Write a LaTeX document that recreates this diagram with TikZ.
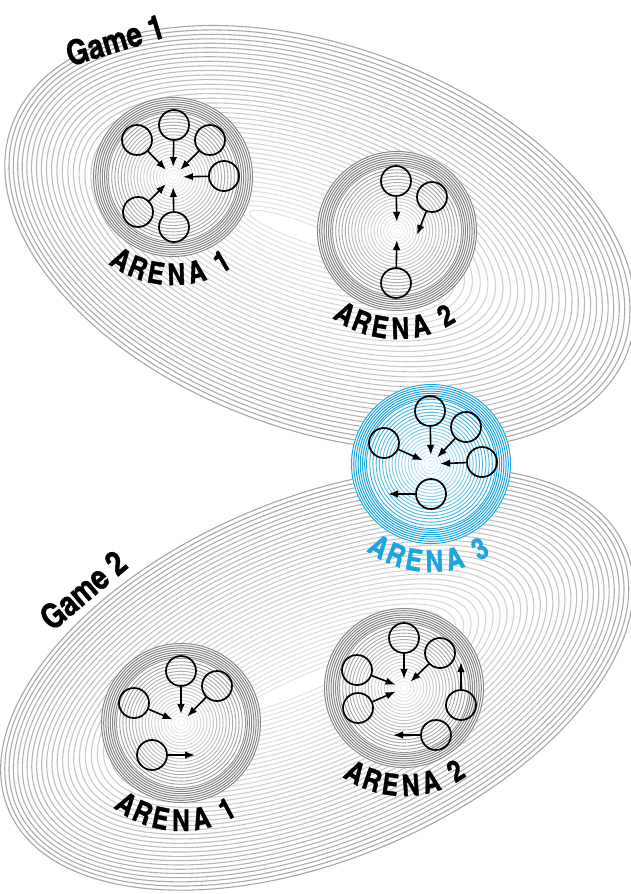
\documentclass[tikz,border=0pt]{standalone}
\usepackage{fontspec}
\newfontfamily\condfont[Extension=.otf, FakeBold=1.2]{texgyreheroscn-bold}
\usetikzlibrary{arrows.meta,calc}
\definecolor{arenablue}{RGB}{30,165,220}

\tikzset{
  player/.style={draw, circle, line width=1.7pt, minimum size=30pt, inner sep=0pt},
  flow/.style={-{Latex[length=10pt,width=7.5pt]}, line width=1.6pt},
  arenaletter/.style={font=\condfont\fontsize{30}{30}\selectfont, inner sep=0pt, anchor=base},
  gamelabel/.style={font=\condfont\fontsize{34}{34}\selectfont, inner sep=0pt},
}

% rings of a game: centre, turn, x radius, y radius, drift of the inner rings
\newcommand{\gamerings}[5]{%
  \begin{scope}[shift={#1}, rotate=#2]
    \pgfmathsetmacro{\d}{#4/41}
    \foreach \i in {0,...,39} {
      \pgfmathsetmacro{\f}{1-\i/41}
      \pgfmathtruncatemacro{\c}{11+24*\f^1.5}
      \draw[black!\c, line width=1.1pt] ({#5*(1-\f)},0)
        ellipse [x radius=#3-\d*\i-0.06*\i*\i, y radius=#4-\d*\i];
    }
  \end{scope}
}
% rings of an arena: centre, colour, band %, inner %
\newcommand{\arenarings}[4]{%
  \fill[white] (#1) circle[radius=80];
  \foreach \i in {0,...,6}
    \draw[#2!#3, line width=1pt] (#1) circle[radius=79.5-2.2*\i];
  \foreach \i in {0,...,19} {
    \pgfmathtruncatemacro{\c}{#4*(1-\i/23)}
    \draw[#2!\c, line width=0.9pt] (#1) circle[radius=64.5-3.2*\i];
  }
}
% curved name under an arena: centre, digit, colour, turn
\newcommand{\arenatext}[4]{%
  \foreach \ch/\ang [count=\k] in {A/-32,R/-21,E/-10,N/2,A/14,#2/30} {
    \pgfmathsetmacro{\t}{\ang+#4}
    \pgfmathsetmacro{\u}{270+\t}
    \node[arenaletter, text=#3, rotate=\t] (#1l\k)
      at ([shift={(\u:108)}]#1) {\ch};
  }
}

\begin{document}
\begin{tikzpicture}[x=1pt, y=1pt]
  \useasboundingbox (0,0) rectangle (631,-894);
  \clip (0,0) rectangle (631,-894);

  % games
  \gamerings{(320,-238)}{-20}{328}{192}{-22}
  \gamerings{(317,-679)}{23}{335}{180}{-11}

  % arenas
  \coordinate (a11) at (173,-177);
  \coordinate (a12) at (397,-231);
  \coordinate (a3) at (431,-464);
  \coordinate (b21) at (181,-723);
  \coordinate (b22) at (404,-688);
  \arenarings{a11}{black}{48}{40}
  \arenarings{a12}{black}{48}{40}
  \arenarings{b21}{black}{48}{40}
  \arenarings{b22}{black}{48}{40}
  \arenarings{a3}{arenablue}{100}{95}

  % game 1, arena 1
  \node[player] (p1) at (174,-125) {};
  \node[player] (p2) at (137,-140) {};
  \node[player] (p3) at (210,-140) {};
  \node[player] (p4) at (224,-176) {};
  \node[player] (p5) at (138,-212) {};
  \node[player] (p6) at (174,-227) {};
  \foreach \p in {p1,p2,p3,p4,p5,p6}
    \draw[flow] (\p) -- ($(a11)!10pt!(\p)$);

  % game 1, arena 2
  \node[player] (q1) at (396,-181) {};
  \node[player] (q2) at (432,-197) {};
  \node[player] (q3) at (396,-283) {};
  \coordinate (q2e) at (417,-235);
  \draw[flow] (q1) -- ($(a12)!9pt!(q1)$);
  \draw[flow] (q3) -- ($(a12)!9pt!(q3)$);
  \draw[flow] (q2) -- (q2e);

  % arena 3
  \node[player] (r1) at (430,-411) {};
  \node[player] (r2) at (466,-427) {};
  \node[player] (r3) at (384,-443) {};
  \node[player] (r4) at (482,-462) {};
  \node[player] (r5) at (431,-494) {};
  \coordinate (r5e) at (388,-494);
  \foreach \p in {r1,r2,r3,r4}
    \draw[flow] (\p) -- ($(a3)!9pt!(\p)$);
  \draw[flow] (r5) -- (r5e);

  % game 2, arena 1
  \node[player] (s1) at (181,-671) {};
  \node[player] (s2) at (217,-686) {};
  \node[player] (s3) at (134,-703) {};
  \node[player] (s4) at (152,-755) {};
  \coordinate (s4e) at (195,-755);
  \foreach \p in {s1,s2,s3}
    \draw[flow] (\p) -- ($(b21)!9pt!(\p)$);
  \draw[flow] (s4) -- (s4e);

  % game 2, arena 2
  \node[player] (t1) at (404,-638) {};
  \node[player] (t2) at (440,-653) {};
  \node[player] (t3) at (357,-670) {};
  \node[player] (t4) at (358,-708) {};
  \node[player] (t5) at (461,-705) {};
  \node[player] (t6) at (436,-735) {};
  \coordinate (t5e) at (461,-662);
  \coordinate (t6e) at (393,-735);
  \foreach \p in {t1,t2,t3,t4}
    \draw[flow] (\p) -- ($(b22)!9pt!(\p)$);
  \draw[flow] (t5) -- (t5e);
  \draw[flow] (t6) -- (t6e);

  % names
  \arenatext{a11}{1}{black}{0}
  \arenatext{a12}{2}{black}{0}
  \arenatext{a3}{3}{arenablue}{0}
  \arenatext{b21}{1}{black}{-2}
  \arenatext{b22}{2}{black}{2}
  \node[gamelabel, rotate=17] (g1) at (115,-40) {Game 1};
  \node[gamelabel, rotate=40] (g2) at (83,-590) {Game 2};
\end{tikzpicture}
\end{document}
